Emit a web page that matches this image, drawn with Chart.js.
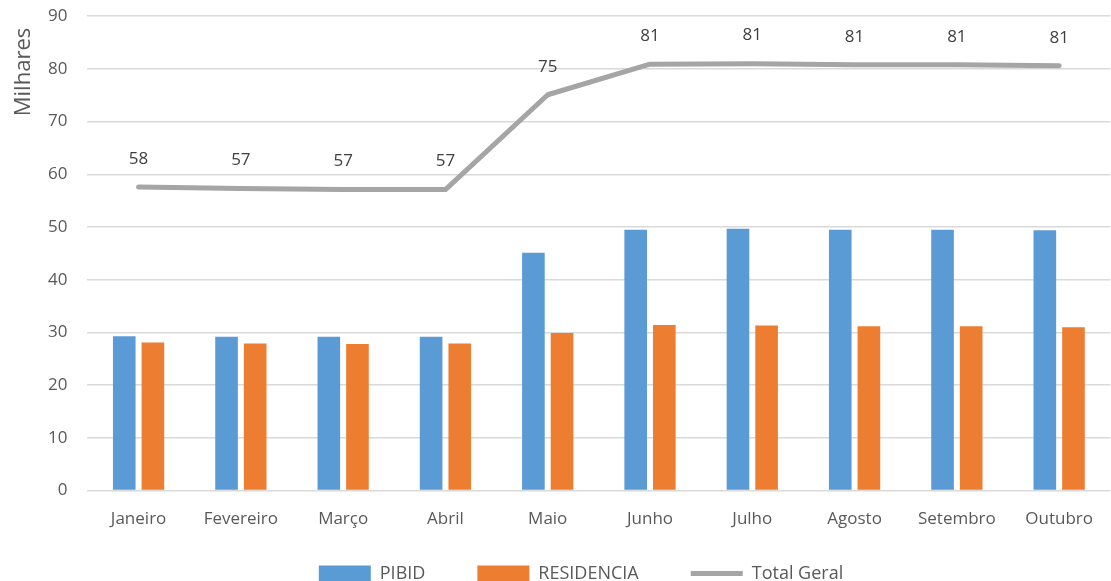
<!DOCTYPE html>
<html>
<head>
<meta charset="utf-8">
<script src="https://cdn.jsdelivr.net/npm/chart.js@4"></script>
<style>
  html, body { margin: 0; padding: 0; background: #fff; overflow: hidden; }
  #wrap { width: 1111px; height: 581px; }
</style>
</head>
<body>
<div id="wrap"><canvas id="comboChart"></canvas></div>
<script>
  const meses = ['Janeiro','Fevereiro','Março','Abril','Maio','Junho','Julho','Agosto','Setembro','Outubro'];
  const pibid = [29.3, 29.2, 29.2, 29.2, 45.1, 49.5, 49.7, 49.5, 49.5, 49.4];
  const residencia = [28.1, 27.9, 27.8, 27.9, 29.9, 31.4, 31.3, 31.2, 31.2, 31.0];
  const totalGeral = [57.6, 57.3, 57.1, 57.1, 75.1, 80.9, 81.0, 80.8, 80.8, 80.6];
  const yTicks = [0, 10, 20, 30, 40, 50, 60, 70, 80, 90];

  const corTexto = '#595959';
  const fonte = "'Open Sans', 'Liberation Sans', sans-serif";

  // rotulos de valor acima da linha do total
  const rotulosLinha = {
    id: 'rotulosLinha',
    afterDatasetsDraw(chart) {
      const ctx = chart.ctx;
      const meta = chart.getDatasetMeta(2);
      ctx.save();
      ctx.font = '17px ' + fonte;
      ctx.fillStyle = '#404040';
      ctx.textAlign = 'center';
      ctx.textBaseline = 'middle';
      meta.data.forEach((pt, i) => {
        ctx.fillText(Math.round(totalGeral[i]), pt.x, pt.y - 28);
      });
      ctx.restore();
    }
  };

  // titulo do eixo y, no topo como no Excel
  const tituloEixo = {
    id: 'tituloEixo',
    afterDraw(chart) {
      const ctx = chart.ctx;
      ctx.save();
      ctx.translate(24, 72);
      ctx.rotate(-Math.PI / 2);
      ctx.font = '22px ' + fonte;
      ctx.fillStyle = corTexto;
      ctx.textAlign = 'center';
      ctx.textBaseline = 'middle';
      ctx.fillText('Milhares', 0, 0);
      ctx.restore();
    }
  };

  // sobe a legenda para logo abaixo dos rotulos do eixo x
  const posLegenda = {
    id: 'posLegenda',
    afterLayout(chart) {
      const lg = chart.legend;
      const h = lg.height;
      lg.top = chart.chartArea.bottom + 22;
      lg.bottom = lg.top + h;
    }
  };

  new Chart(document.getElementById('comboChart'), {
    type: 'bar',
    data: {
      labels: meses,
      datasets: [{
        label: 'PIBID',
        data: pibid,
        backgroundColor: '#5B9BD5',
        pointStyle: 'rect',
        categoryPercentage: 0.56,
        barPercentage: 0.79,
        order: 1
      }, {
        label: 'RESIDENCIA',
        data: residencia,
        backgroundColor: '#ED7D31',
        pointStyle: 'rect',
        categoryPercentage: 0.56,
        barPercentage: 0.79,
        order: 1
      }, {
        type: 'line',
        label: 'Total Geral',
        data: totalGeral,
        borderColor: '#A5A5A5',
        backgroundColor: '#A5A5A5',
        borderWidth: 5,
        pointRadius: 0,
        pointHoverRadius: 0,
        pointBorderWidth: 5,
        pointStyle: 'line',
        borderCapStyle: 'round',
        borderJoinStyle: 'round',
        tension: 0,
        order: -1
      }]
    },
    options: {
      responsive: true,
      maintainAspectRatio: false,
      animation: false,
      layout: { padding: { top: 4, right: -9, left: 42, bottom: -46 } },
      plugins: {
        tooltip: { enabled: false },
        legend: {
          position: 'bottom',
          labels: {
            usePointStyle: true,
            pointStyleWidth: 52,
            boxHeight: 16,
            padding: 52,
            color: corTexto,
            font: { family: fonte, size: 18 },
            sort: (a, b) => a.datasetIndex - b.datasetIndex
          }
        }
      },
      scales: {
        x: {
          grid: { display: false, drawTicks: false },
          border: { display: false },
          ticks: {
            color: corTexto,
            padding: 18,
            font: { family: fonte, size: 17 }
          }
        },
        y: {
          min: 0,
          max: 90,
          afterBuildTicks(axis) { axis.ticks = yTicks.map(v => ({ value: v })); },
          grid: { color: '#D9D9D9', lineWidth: 1.5, drawTicks: true, tickLength: 14, tickColor: 'rgba(0,0,0,0)' },
          border: { display: false },
          ticks: {
            color: corTexto,
            padding: 6,
            font: { family: fonte, size: 17 }
          }
        }
      }
    },
    plugins: [rotulosLinha, tituloEixo, posLegenda]
  });
</script>
</body>
</html>
